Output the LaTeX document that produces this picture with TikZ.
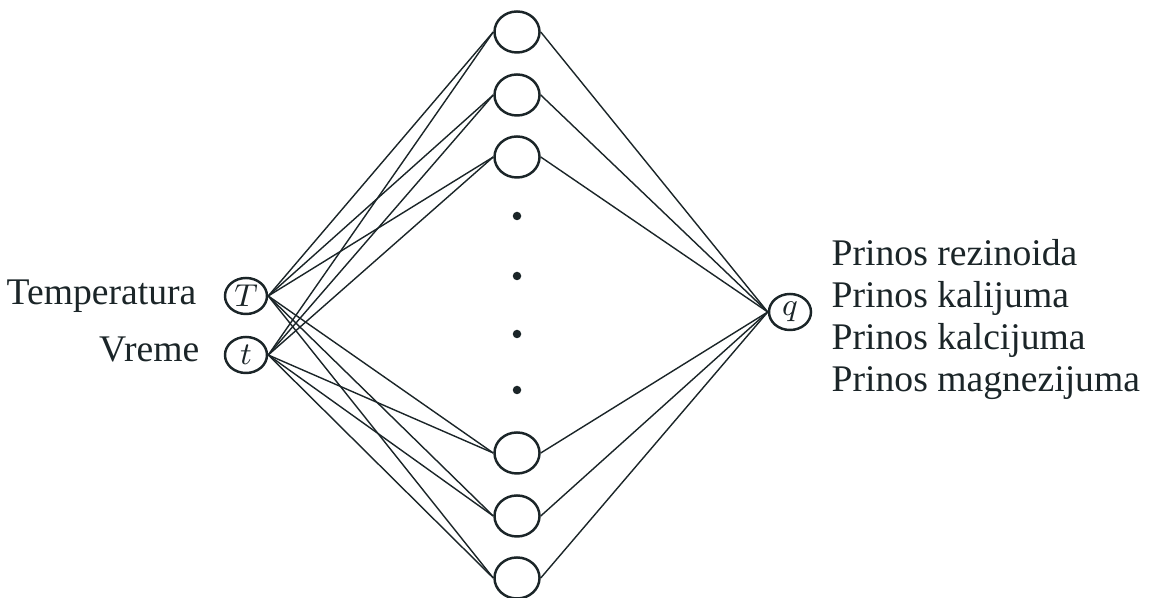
\documentclass[tikz,border=0pt]{standalone}
\usepackage{fontspec}
\setmainfont{Liberation Serif}
\usepackage{xcolor}
\usepackage{tikz}
\usetikzlibrary{shapes.geometric}
\definecolor{ink}{HTML}{1B2528}

\begin{document}
\begin{tikzpicture}[x=0.01cm, y=-0.01cm,
    every node/.style={color=ink, font=\fontsize{10.7}{12.7}\selectfont},
    unit/.style={draw=ink, line width=0.7pt, ellipse, inner sep=0pt, minimum width=0.42cm, minimum height=0.36cm, font=\fontsize{9.5}{10}\selectfont},
    hidden/.style={draw=ink, line width=0.7pt, ellipse, inner sep=0pt, minimum width=0.45cm, minimum height=0.41cm},
    dot/.style={circle, fill=ink, inner sep=0pt, minimum size=0.085cm},
    label/.style={inner sep=0pt},
    link/.style={draw=ink, line width=0.4pt}]
  \useasboundingbox (0,0) rectangle (1154,598);
  % inputs
  \node[unit] (T) at (246,296) {$T$};
  \node[unit] (t) at (246,355) {$t$};
  \node[label, anchor=base east] (lT) at (197,305) {Temperatura};
  \node[label, anchor=base east] (lt) at (200,362) {Vreme};
  % hidden layer
  \node[hidden] (h1) at (517,32) {};
  \node[hidden] (h2) at (517,95) {};
  \node[hidden] (h3) at (517,157) {};
  \node[hidden] (h4) at (517,453) {};
  \node[hidden] (h5) at (517,516) {};
  \node[hidden] (h6) at (517,578) {};
  \node[dot] (d1) at (517,216) {};
  \node[dot] (d2) at (517,276) {};
  \node[dot] (d3) at (517,334) {};
  \node[dot] (d4) at (517,390) {};
  % output
  \node[unit] (q) at (790,312) {$q$};
  \node[label, anchor=base west] (r1) at (831,266) {Prinos rezinoida};
  \node[label, anchor=base west] (r2) at (831,308) {Prinos kalijuma};
  \node[label, anchor=base west] (r3) at (831,350) {Prinos kalcijuma};
  \node[label, anchor=base west] (r4) at (831,392) {Prinos magnezijuma};
  \foreach \i in {1,...,6} {
    \draw[link] (T.east) -- (h\i.west);
    \draw[link] (t.east) -- (h\i.west);
    \draw[link] (h\i.east) -- (q.west);
  }
\end{tikzpicture}
\end{document}
